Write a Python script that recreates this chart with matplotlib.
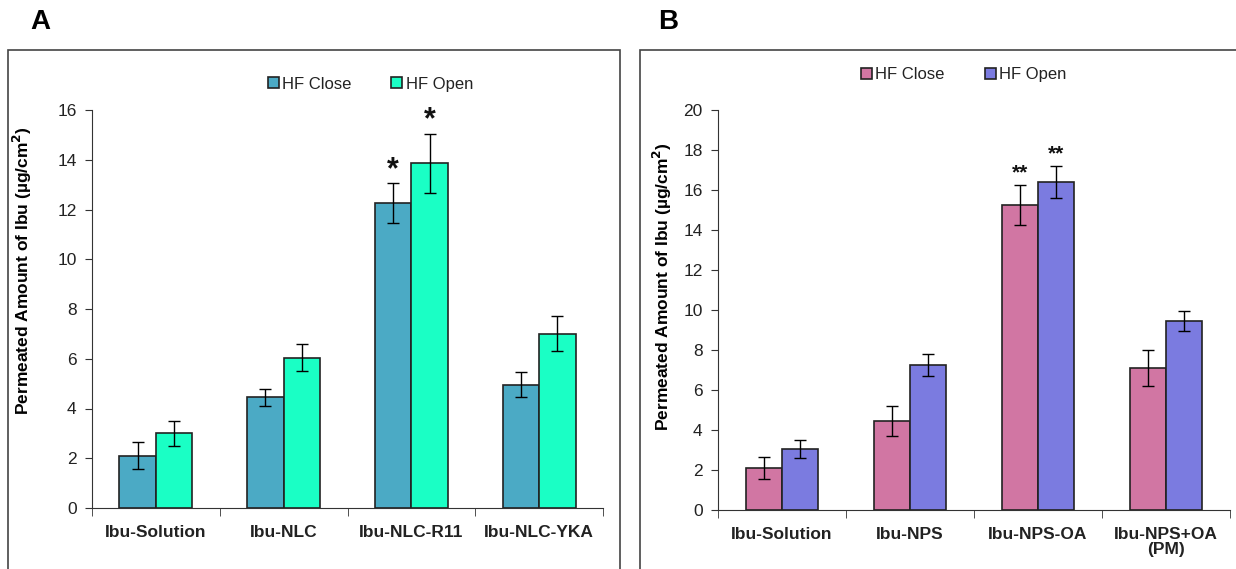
import numpy as np
import matplotlib.pyplot as plt
from matplotlib.patches import Rectangle

plt.rcParams['font.family'] = ['Liberation Sans', 'DejaVu Sans']

# Panel A data
cats_a = ['Ibu-Solution', 'Ibu-NLC', 'Ibu-NLC-R11', 'Ibu-NLC-YKA']
close_a = [2.1, 4.45, 12.25, 4.95]
close_a_err = [0.55, 0.35, 0.8, 0.5]
open_a = [3.0, 6.05, 13.85, 7.0]
open_a_err = [0.5, 0.55, 1.2, 0.7]
stars_a = ['', '', '*', '']

# Panel B data
cats_b = ['Ibu-Solution', 'Ibu-NPS', 'Ibu-NPS-OA', 'Ibu-NPS+OA\n(PM)']
close_b = [2.1, 4.45, 15.25, 7.1]
close_b_err = [0.55, 0.75, 1.0, 0.9]
open_b = [3.05, 7.25, 16.4, 9.45]
open_b_err = [0.45, 0.55, 0.8, 0.5]
stars_b = ['', '', '**', '']

W, H = 1236, 569
fig = plt.figure(figsize=(W / 100, H / 100), dpi=100)


def px(x0, y0, x1, y1):
    return [x0 / W, 1 - y1 / H, (x1 - x0) / W, (y1 - y0) / H]


def panel(rect, cats, c_vals, c_err, o_vals, o_err, stars, colors, ymax, legend_xy, ylab_xy):
    ax = fig.add_axes(px(*rect))
    x = np.arange(len(cats))
    w = 0.285
    ax.bar(x - w / 2, c_vals, w, yerr=c_err, color=colors[0], edgecolor='#222222',
           linewidth=1.2, capsize=4, error_kw=dict(elinewidth=1, capthick=1),
           label='HF Close', zorder=2)
    ax.bar(x + w / 2, o_vals, w, yerr=o_err, color=colors[1], edgecolor='#222222',
           linewidth=1.2, capsize=4, error_kw=dict(elinewidth=1, capthick=1),
           label='HF Open', zorder=2)
    for i, s in enumerate(stars):
        if s:
            for xv, v, e in [(x[i] - w / 2, c_vals[i], c_err[i]), (x[i] + w / 2, o_vals[i], o_err[i])]:
                ax.annotate(s, (xv, v + e), xytext=(0, -1 if s == '*' else 2),
                            textcoords='offset points', ha='center', va='bottom',
                            fontsize=22 if s == '*' else 15, fontweight='bold',
                            color='#111111')
    ax.set_xlim(-0.5, len(cats) - 0.5)
    ax.set_ylim(0, ymax)
    ax.set_yticks(np.arange(0, ymax + 1, 2))
    ax.set_xticks(x)
    ax.set_xticklabels(cats, fontweight='bold', fontsize=12.5, color='#222222',
                       linespacing=1.0)
    ax.set_xticks(np.arange(-0.5, len(cats), 1), minor=True)
    ax.tick_params(axis='x', which='major', length=0, pad=12)
    ax.tick_params(axis='x', which='minor', length=6, direction='out', color='#333333')
    ax.tick_params(axis='y', length=5, labelsize=12.5, color='#333333', labelcolor='#222222',
                   pad=6)
    for sp in ['top', 'right']:
        ax.spines[sp].set_visible(False)
    for sp in ['left', 'bottom']:
        ax.spines[sp].set_color('#333333')
    ax.set_ylabel(r'Permeated Amount of Ibu (µg/cm$^{\mathbf{2}}$)', fontweight='bold',
                  fontsize=12.5)
    # place the label in figure pixels (x = right edge, y = centre)
    bb = ax.get_position()
    ax.yaxis.set_label_coords((ylab_xy[0] / W - bb.x0) / bb.width,
                              ((1 - ylab_xy[1] / H) - bb.y0) / bb.height)
    leg = ax.legend(loc='center', bbox_to_anchor=legend_xy, ncol=2, frameon=False,
                    fontsize=12, handlelength=0.65, handleheight=0.65, handletextpad=0.2,
                    columnspacing=2.4)
    for t in leg.get_texts():
        t.set_color('#222222')
    return ax


# frames around each panel (bottom and right edges run off the image)
fig.patches.append(Rectangle((8 / W, -0.05), (620 - 8) / W, 1.05 - 50 / H, transform=fig.transFigure,
                             fill=False, edgecolor='#444444', linewidth=1.2))
fig.patches.append(Rectangle((640 / W, -0.05), (1245 - 640) / W, 1.05 - 50 / H, transform=fig.transFigure,
                             fill=False, edgecolor='#444444', linewidth=1.2))

panel((92, 110, 603, 508), cats_a, close_a, close_a_err, open_a, open_a_err, stars_a,
      ['#4BAAC5', '#1AFFC5'], 16, (0.545, 1.065), (34, 271))
panel((718, 110, 1230, 510), cats_b, close_b, close_b_err, open_b, open_b_err, stars_b,
      ['#D176A3', '#7B7BE0'], 20, (0.48, 1.088), (674, 287))

fig.text(40 / W, 1 - 22 / H, 'A', fontsize=20, fontweight='bold', ha='center', va='center')
fig.text(668 / W, 1 - 22 / H, 'B', fontsize=20, fontweight='bold', ha='center', va='center')

fig.savefig('out.png', dpi=100)
